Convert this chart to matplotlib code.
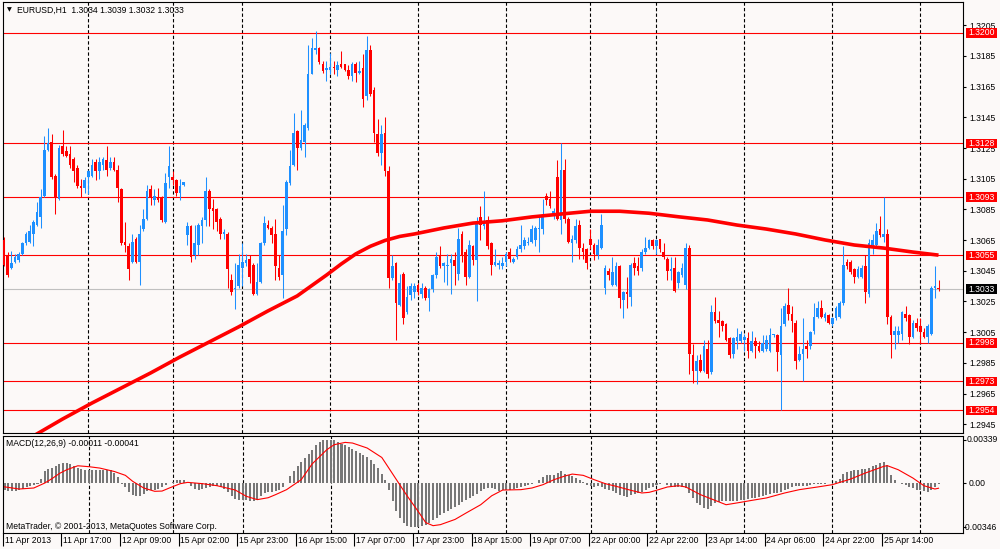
import numpy as np
import matplotlib
matplotlib.use("Agg")
import matplotlib.pyplot as plt
import matplotlib.transforms as mtransforms
from matplotlib.patches import Rectangle

plt.rcParams['font.family'] = ['Liberation Sans', 'DejaVu Sans']

# EURUSD H1, prices in points (1/10000)
open_pts = [
    13065, 13055, 13047, 13051, 13052, 13056, 13063, 13064, 13069, 13075, 13080, 13094, 13124, 13129, 13107, 13092,
    13126, 13123, 13121, 13118, 13112, 13100, 13099, 13106, 13107, 13116, 13110, 13114, 13117, 13112, 13116, 13111,
    13098, 13064, 13061, 13051, 13066, 13051, 13072, 13079, 13098, 13091, 13093, 13093, 13077, 13106, 13106, 13104,
    13096, 13101, 13068, 13074, 13055, 13062, 13074, 13078, 13097, 13086, 13085, 13079, 13069, 13069, 13039, 13033,
    13035, 13047, 13050, 13053, 13049, 13030, 13038, 13063, 13075, 13073, 13069, 13047, 13042, 13072, 13102, 13114,
    13136, 13125, 13129, 13138, 13173, 13189, 13190, 13180, 13176, 13176, 13178, 13176, 13180, 13180, 13176, 13172,
    13180, 13174, 13177, 13159, 13189, 13163, 13134, 13122, 13135, 13110, 13040, 13050, 13023, 13043, 13018, 13029,
    13031, 13036, 13030, 13034, 13027, 13033, 13042, 13055, 13048, 13048, 13050, 13052, 13043, 13069, 13057, 13041,
    13061, 13052, 13080, 13074, 13078, 13063, 13049, 13049, 13048, 13051, 13057, 13051, 13054, 13059, 13061, 13063,
    13064, 13065, 13072, 13072, 13094, 13092, 13081, 13106, 13078, 13111, 13079, 13063, 13065, 13075, 13060, 13059,
    13066, 13062, 13055, 13060, 13034, 13045, 13036, 13036, 13048, 13026, 13031, 13028, 13050, 13048, 13047, 13057,
    13060, 13065, 13061, 13066, 13057, 13053, 13045, 13047, 13037, 13042, 13036, 13060, 12990, 12980, 12987, 12980,
    12994, 12979, 13018, 13013, 13012, 13010, 13001, 12991, 12999, 12999, 13000, 13001, 12993, 12999, 12996, 12993,
    12994, 12993, 13003, 13003, 12990, 13010, 13023, 13017, 13011, 12987, 12991, 12996, 12996, 13006, 13015, 13021,
    13014, 13016, 13010, 13014, 13015, 13024, 13051, 13051, 13046, 13041, 13041, 13048, 13030, 13062, 13062, 13072,
    13067, 13069, 13015, 13003, 13003, 13004, 13017, 13016, 13002, 13011, 13009, 13005, 13002, 13004, 13034, 13034,
]
high_pts = [
    13067, 13057, 13058, 13056, 13057, 13064, 13070, 13075, 13078, 13090, 13098, 13133, 13138, 13134, 13108, 13127,
    13137, 13126, 13126, 13119, 13114, 13105, 13106, 13111, 13118, 13118, 13119, 13119, 13126, 13119, 13119, 13114,
    13099, 13077, 13063, 13069, 13067, 13075, 13085, 13101, 13101, 13098, 13099, 13094, 13109, 13126, 13110, 13105,
    13105, 13103, 13077, 13075, 13075, 13076, 13080, 13106, 13098, 13092, 13086, 13080, 13072, 13070, 13043, 13050,
    13056, 13063, 13056, 13055, 13050, 13050, 13064, 13081, 13078, 13074, 13079, 13055, 13088, 13104, 13124, 13148,
    13137, 13150, 13141, 13192, 13197, 13201, 13191, 13182, 13182, 13187, 13182, 13182, 13188, 13180, 13179, 13181,
    13181, 13182, 13186, 13198, 13192, 13165, 13144, 13140, 13145, 13113, 13055, 13051, 13043, 13044, 13035, 13037,
    13037, 13037, 13037, 13035, 13034, 13043, 13057, 13061, 13051, 13056, 13056, 13057, 13073, 13071, 13059, 13065,
    13062, 13080, 13087, 13097, 13081, 13064, 13059, 13052, 13054, 13057, 13060, 13054, 13061, 13075, 13067, 13067,
    13075, 13074, 13080, 13092, 13096, 13097, 13086, 13117, 13128, 13118, 13080, 13068, 13079, 13078, 13063, 13060,
    13072, 13063, 13066, 13082, 13049, 13047, 13054, 13051, 13049, 13032, 13041, 13050, 13054, 13054, 13059, 13067,
    13066, 13066, 13066, 13066, 13063, 13054, 13054, 13054, 13045, 13050, 13063, 13062, 12997, 12990, 12991, 13000,
    13000, 13023, 13028, 13019, 13013, 13011, 13002, 13002, 13008, 13006, 13004, 13005, 13006, 13002, 12999, 13003,
    13003, 13008, 13004, 13004, 13021, 13024, 13034, 13022, 13013, 12996, 13014, 13000, 13006, 13024, 13025, 13026,
    13018, 13017, 13015, 13022, 13025, 13061, 13053, 13052, 13047, 13048, 13049, 13055, 13066, 13069, 13076, 13081,
    13093, 13072, 13016, 13009, 13009, 13019, 13022, 13017, 13013, 13014, 13014, 13008, 13010, 13035, 13048, 13039,
]
low_pts = [
    13048, 13041, 13046, 13050, 13051, 13055, 13062, 13063, 13061, 13074, 13073, 13093, 13123, 13105, 13082, 13091,
    13120, 13119, 13112, 13103, 13099, 13093, 13096, 13095, 13106, 13104, 13105, 13111, 13107, 13111, 13110, 13090,
    13062, 13057, 13039, 13050, 13050, 13036, 13071, 13078, 13088, 13088, 13090, 13077, 13076, 13099, 13101, 13094,
    13091, 13100, 13062, 13051, 13053, 13055, 13063, 13074, 13074, 13072, 13071, 13066, 13066, 13034, 13029, 13020,
    13034, 13035, 13048, 13037, 13029, 13029, 13037, 13062, 13072, 13063, 13039, 13039, 13027, 13068, 13101, 13113,
    13111, 13124, 13119, 13137, 13173, 13186, 13180, 13174, 13169, 13173, 13173, 13172, 13177, 13175, 13170, 13169,
    13168, 13173, 13152, 13156, 13159, 13129, 13120, 13114, 13107, 13034, 13039, 13000, 13022, 13010, 13017, 13026,
    13027, 13029, 13027, 13026, 13019, 13031, 13040, 13047, 13038, 13036, 13030, 13036, 13039, 13051, 13036, 13040,
    13049, 13025, 13065, 13072, 13059, 13042, 13048, 13046, 13046, 13048, 13051, 13050, 13053, 13057, 13059, 13062,
    13063, 13061, 13057, 13069, 13088, 13086, 13079, 13078, 13069, 13076, 13063, 13051, 13063, 13053, 13053, 13046,
    13059, 13052, 13053, 13059, 13030, 13039, 13035, 13035, 13021, 13014, 13021, 13022, 13042, 13042, 13045, 13056,
    13059, 13059, 13056, 13057, 13053, 13039, 13039, 13031, 13034, 13041, 13033, 12978, 12972, 12971, 12979, 12979,
    12975, 12978, 13011, 13002, 13006, 12999, 12988, 12988, 12994, 12998, 12993, 12988, 12992, 12988, 12992, 12992,
    12993, 12992, 13002, 12980, 12954, 13009, 13013, 13005, 12981, 12986, 12973, 12988, 12994, 13004, 13014, 13014,
    13012, 13010, 13009, 13013, 13014, 13023, 13046, 13043, 13037, 13040, 13040, 13024, 13028, 13056, 13061, 13067,
    13064, 13010, 12988, 12994, 12998, 13000, 13012, 12997, 13001, 13006, 12998, 13001, 12998, 13003, 13027, 13032,
]
close_pts = [
    13049, 13042, 13050, 13054, 13056, 13063, 13069, 13071, 13077, 13083, 13093, 13124, 13128, 13106, 13093, 13125,
    13121, 13120, 13114, 13110, 13100, 13099, 13104, 13110, 13114, 13110, 13116, 13118, 13111, 13116, 13111, 13099,
    13063, 13062, 13046, 13064, 13051, 13069, 13079, 13097, 13093, 13094, 13091, 13078, 13102, 13113, 13104, 13096,
    13100, 13103, 13074, 13054, 13063, 13075, 13078, 13097, 13085, 13084, 13077, 13069, 13070, 13046, 13031, 13034,
    13049, 13051, 13052, 13041, 13030, 13038, 13063, 13076, 13073, 13068, 13048, 13041, 13071, 13103, 13113, 13135,
    13125, 13130, 13140, 13173, 13190, 13190, 13181, 13175, 13177, 13178, 13177, 13179, 13178, 13176, 13172, 13180,
    13174, 13175, 13157, 13189, 13160, 13135, 13122, 13134, 13110, 13040, 13048, 13024, 13037, 13014, 13028, 13035,
    13035, 13031, 13034, 13027, 13033, 13042, 13054, 13048, 13050, 13049, 13053, 13048, 13066, 13055, 13041, 13062,
    13052, 13076, 13075, 13077, 13061, 13049, 13051, 13050, 13050, 13056, 13053, 13053, 13059, 13062, 13065, 13064,
    13072, 13073, 13073, 13081, 13091, 13087, 13084, 13079, 13111, 13079, 13064, 13066, 13074, 13060, 13057, 13050,
    13062, 13056, 13062, 13075, 13047, 13042, 13044, 13048, 13027, 13031, 13030, 13049, 13047, 13045, 13057, 13060,
    13065, 13061, 13065, 13059, 13054, 13045, 13046, 13032, 13044, 13047, 13060, 12991, 12980, 12986, 12980, 12996,
    12978, 13018, 13012, 13011, 13009, 13000, 12990, 13001, 13002, 13004, 13002, 12993, 12999, 12996, 12993, 12998,
    13000, 13003, 13004, 12992, 13009, 13022, 13017, 13012, 12986, 12991, 12994, 12994, 13005, 13015, 13021, 13015,
    13017, 13011, 13014, 13021, 13024, 13049, 13048, 13044, 13041, 13046, 13047, 13031, 13063, 13065, 13071, 13068,
    13069, 13015, 13003, 13006, 13006, 13018, 13014, 13002, 13011, 13008, 13005, 13002, 13009, 13034, 13035, 13033,
]

# moving average read at some bars (points)
ma_bars = [8, 16, 24, 32, 40, 48, 56, 64, 72, 80, 88, 92, 96, 100, 104, 108, 112, 120, 128,
           136, 144, 152, 160, 168, 176, 184, 192, 200, 208, 216, 224, 232, 240, 248, 255]
ma_pts = [12937.3, 12948.4, 12958.8, 12968.6, 12978.4, 12988.8, 12998.6, 13008.4, 13018.8,
          13028.6, 13042.2, 13049.4, 13056.0, 13061.0, 13064.8, 13067.4, 13069.0, 13072.9,
          13076.1, 13077.6, 13080.1, 13082.0, 13083.8, 13083.8, 13082.5, 13080.2, 13078.1,
          13074.8, 13072.2, 13069.0, 13065.1, 13061.8, 13059.8, 13057.2, 13055.2]

# MACD(12,26,9) main histogram, units of 0.00001
macd_e5 = [
    -52, -60, -60, -60, -57, -47, -31, -26, -16, -8, 31, 94, 112, 120, 130, 146,
    157, 157, 151, 130, 115, 107, 104, 102, 99, 99, 99, 99, 102, 99, 78, 44,
    -8, -31, -68, -94, -104, -99, -84, -65, -52, -52, -44, -34, -18, 0, 10, 21,
    26, 21, -3, -26, -44, -52, -50, -42, -31, -26, -26, -34, -50, -70, -102, -123,
    -133, -136, -130, -138, -144, -128, -99, -78, -68, -70, -63, -55, -31, -3, 52, 97,
    136, 164, 193, 224, 261, 298, 324, 334, 339, 339, 334, 324, 308, 295, 282, 266,
    251, 238, 222, 206, 183, 151, 115, 73, 26, -57, -144, -217, -274, -316, -339, -344,
    -346, -346, -340, -331, -316, -290, -274, -248, -232, -219, -204, -188, -170, -149, -133, -117,
    -104, -89, -63, -44, -39, -42, -50, -63, -57, -57, -52, -47, -39, -29, -23, -16,
    -8, 3, 23, 44, 60, 65, 65, 76, 91, 73, 60, 52, 42, 23, 5, -13,
    -26, -31, -26, -34, -44, -55, -63, -76, -91, -104, -110, -97, -86, -76, -68, -55,
    -42, -29, -13, -5, -3, -16, -23, -29, -31, -31, -37, -76, -117, -154, -172, -193,
    -201, -183, -157, -146, -144, -144, -144, -144, -138, -133, -130, -128, -120, -115, -107, -99,
    -91, -86, -81, -78, -70, -57, -44, -34, -26, -21, -21, -21, -18, -10, -8, -5,
    -5, 0, 0, 13, 31, 68, 84, 94, 102, 104, 107, 110, 117, 130, 144, 157,
    162, 144, 65, 21, 0, -10, -18, -29, -39, -52, -57, -65, -68, -52, -31, -11,
]
# signal line read at some bars, units of 0.00001
signal_bars = [0, 4, 8, 11, 13, 15, 17, 20, 23, 26, 30, 33, 35, 38, 41, 43, 45, 48, 50, 54,
               58, 63, 66, 69, 72, 74, 77, 81, 84, 88, 90, 93, 95, 99, 103, 104, 107, 110,
               113, 115, 117, 119, 123, 126, 130, 133, 136, 141, 144, 147, 150, 153, 155,
               158, 161, 164, 167, 171, 174, 176, 178, 181, 184, 186, 190, 194, 197, 201,
               204, 208, 213, 217, 222, 226, 231, 235, 240, 241, 244, 248, 251, 254, 255]
signal_e5 = [-30, -47, -39, 0, 35, 75, 104, 135, 128, 117, 90, 60, 13, -39, -65, -63, -39,
             -5, 5, -5, -21, -55, -104, -130, -115, -91, -52, 26, 150, 261, 300, 318, 313,
             274, 200, 157, 26, -104, -225, -310, -334, -326, -285, -235, -170, -100, -55,
             -52, -39, -13, 26, 55, 70, 60, 26, -5, -26, -57, -78, -73, -57, -31, -21, -31,
             -91, -136, -170, -151, -136, -117, -78, -52, -31, -13, 31, 78, 130, 136, 104,
             39, -21, -47, -41]

levels = [1.3200, 1.3128, 1.3093, 1.3055, 1.2998, 1.2973, 1.2954]
bid = 1.3033
price_ticks = [1.3205, 1.3185, 1.3165, 1.3145, 1.3125, 1.3105, 1.3085, 1.3065,
               1.3045, 1.3025, 1.3005, 1.2985, 1.2965, 1.2945]
macd_ticks = [0.00339, 0.0, -0.00346]
macd_tick_labels = ["0.00339", "0.00", "-0.00346"]
separators = [23, 46, 65, 89, 113, 137, 160, 178, 202, 226, 250]
date_bars = [0, 16, 32, 48, 64, 80, 96, 112, 128, 144, 160, 176, 192, 208, 224, 240]
date_labels = ["11 Apr 2013", "11 Apr 17:00", "12 Apr 09:00", "15 Apr 02:00",
               "15 Apr 23:00", "16 Apr 15:00", "17 Apr 07:00", "17 Apr 23:00",
               "18 Apr 15:00", "19 Apr 07:00", "22 Apr 00:00", "22 Apr 22:00",
               "23 Apr 14:00", "24 Apr 06:00", "24 Apr 22:00", "25 Apr 14:00"]

bg = '#fcf9f8'
bull = '#1e90ff'
bear = '#ff0000'
FS = 6.2
W, H = 1000, 549


def rect(x0, y0, x1, y1):
    return [x0 / W, 1 - y1 / H, (x1 - x0) / W, (y1 - y0) / H]


fig = plt.figure(figsize=(10, 5.49), dpi=100, facecolor=bg)
ax = fig.add_axes(rect(2.7, 1.5, 962.7, 432.5), facecolor=bg)
ax2 = fig.add_axes(rect(2.7, 435.5, 962.7, 532.7), facecolor=bg)

k = np.arange(len(close_pts))
o = np.array(open_pts) / 1e4
h = np.array(high_pts) / 1e4
l = np.array(low_pts) / 1e4
c = np.array(close_pts) / 1e4
cols = np.where(c >= o, bull, bear)

xlim = (-0.355, 261.6)
for a in (ax, ax2):
    a.set_xlim(*xlim)
    for s in a.spines.values():
        s.set_color('black')
        s.set_linewidth(0.8)
    for s in separators:
        a.axvline(s, color='black', lw=0.8, ls=(0, (3, 2)), zorder=1)

ax.set_ylim(1.29396, 1.32205)

# levels and bid line
for lv in levels:
    ax.axhline(lv, color='red', lw=0.8, zorder=2)
ax.axhline(bid, color='#c0c0c0', lw=0.8, zorder=2)

# candles
ax.vlines(k, l, h, colors=cols, lw=0.75, zorder=3)
ax.bar(k, np.maximum(np.abs(c - o), 0.00005), bottom=np.minimum(o, c),
       width=0.72, color=cols, linewidth=0, zorder=3)

# moving average
ax.plot(ma_bars, np.array(ma_pts) / 1e4, color='red', lw=2.6, zorder=4,
        solid_capstyle='butt', solid_joinstyle='round')

# right price scale
ax.yaxis.tick_right()
ax.set_yticks(price_ticks)
ax.set_yticklabels([f"{p:.4f}" for p in price_ticks])
ax.tick_params(axis='y', direction='out', length=2.5, width=0.8, pad=2,
               labelsize=FS, colors='black')
ax.tick_params(axis='x', bottom=False, labelbottom=False)

ytr = ax.get_yaxis_transform()
hh = 4.75 / 15340
for lv, fc in [(lv, 'red') for lv in levels] + [(bid, 'black')]:
    ax.add_patch(Rectangle((1.0035, lv - hh), 0.0326, 2 * hh, transform=ytr,
                           facecolor=fc, edgecolor='none', clip_on=False, zorder=6))
    ax.text(1.0197, lv, f"{lv:.4f}", transform=ytr, color='white', fontsize=FS,
            ha='center', va='center', clip_on=False, zorder=7)

ax.text(0.0071, 0.9803, "\u25bc", transform=ax.transAxes, fontsize=4.5,
        ha='center', va='center', family=['DejaVu Sans'])
ax.text(0.0149, 0.9803, "EURUSD,H1  1.3034 1.3039 1.3032 1.3033",
        transform=ax.transAxes, fontsize=FS, ha='left', va='center')

# MACD pane
macd = np.array(macd_e5) * 1e-5
ax2.bar(k, macd, width=0.55, color='#777777', linewidth=0, zorder=3)
ax2.plot(signal_bars, np.array(signal_e5) * 1e-5, color='red', lw=0.8, zorder=4)
ax2.set_ylim(-0.00389, 0.00372)
ax2.yaxis.tick_right()
ax2.set_yticks(macd_ticks)
ax2.tick_params(axis='y', direction='out', length=2.5, width=0.8,
                labelright=False, colors='black')
# MT4 places these labels with their own offsets (the negative one hugs the border)
ytr2 = ax2.get_yaxis_transform()
for v, lab, xa in zip(macd_ticks, macd_tick_labels, [1.0045, 1.0066, 1.0003]):
    ax2.text(xa, v, lab, transform=ytr2, fontsize=FS, ha='left', va='center',
             clip_on=False)

ax2.set_xticks(np.array(date_bars) - 0.5)
ax2.tick_params(axis='x', direction='out', length=9, width=0.8,
                labelbottom=False, colors='black')

xtr = mtransforms.blended_transform_factory(ax2.transData, ax2.transAxes)
for b, lab in zip(date_bars, date_labels):
    ax2.text(b, -0.0802, lab, transform=xtr, fontsize=FS, ha='left',
             va='center', clip_on=False)

ax2.text(0.0034, 0.92, "MACD(12,26,9) -0.00011 -0.00041", transform=ax2.transAxes,
         fontsize=FS, ha='left', va='center')
ax2.text(0.0034, 0.062, "MetaTrader, \u00a9 2001-2013, MetaQuotes Software Corp.",
         transform=ax2.transAxes, fontsize=FS, ha='left', va='center')

fig.savefig("out.png", dpi=100, facecolor=bg)
